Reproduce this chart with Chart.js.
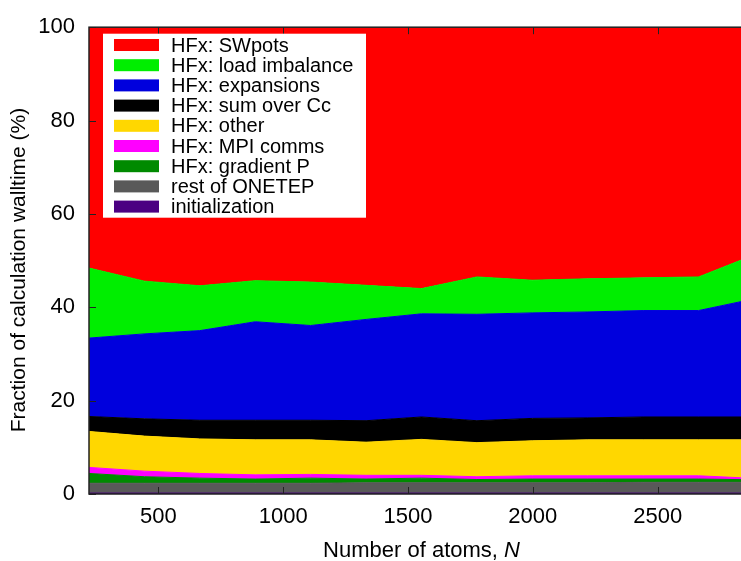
<!DOCTYPE html>
<html>
<head>
<meta charset="utf-8">
<script src="https://cdn.jsdelivr.net/npm/chart.js@4/dist/chart.umd.min.js"></script>
<style>
html,body{margin:0;padding:0;background:#fff;overflow:hidden;width:741px;height:561px;}
canvas{display:block;}
</style>
</head>
<body>
<canvas id="c" width="760" height="561" style="width:760px;height:561px"></canvas>
<script>
// ---- data ----
const atoms = [222, 444, 666, 888, 1110, 1332, 1554, 1776, 1998, 2220, 2442, 2664, 2886];
const initialization = [0.2, 0.2, 0.2, 0.2, 0.2, 0.2, 0.2, 0.2, 0.2, 0.2, 0.2, 0.2, 0.2];
const restOfOnetep   = [2.1, 2.1, 2.1, 2.1, 2.1, 2.2, 2.2, 2.2, 2.2, 2.2, 2.3, 2.3, 2.3];
const gradientP      = [2.1, 1.4, 1.1, 0.9, 1.1, 0.8, 1.0, 0.7, 0.8, 0.8, 0.7, 0.7, 0.55];
const mpiComms       = [1.3, 1.2, 1.0, 0.9, 0.8, 0.8, 0.6, 0.6, 0.7, 0.7, 0.7, 0.7, 0.3];
const hfxOther       = [7.7, 7.5, 7.4, 7.5, 7.4, 7.1, 7.7, 7.3, 7.5, 7.7, 7.7, 7.7, 8.25];
const sumOverCc      = [3.2, 3.7, 4.0, 4.2, 4.2, 4.6, 4.8, 4.7, 4.8, 4.7, 4.9, 4.9, 4.9];
const expansions     = [16.8, 18.2, 19.2, 21.1, 20.3, 21.7, 22.1, 22.8, 22.6, 22.7, 22.8, 22.8, 25.3];
const loadImbalance  = [15.0, 11.3, 9.6, 8.8, 9.3, 7.3, 5.4, 8.0, 7.0, 7.1, 7.0, 7.2, 9.4];
const swPots         = [51.6, 54.4, 55.4, 54.3, 54.6, 55.3, 56.0, 53.5, 54.2, 53.9, 53.7, 53.5, 48.8];

const xTicks = [500, 1000, 1500, 2000, 2500];
const yTicks = [0, 20, 40, 60, 80, 100];

// stacked bottom -> top
const seriesLabels = ['initialization', 'rest of ONETEP', 'HFx: gradient P', 'HFx: MPI comms',
  'HFx: other', 'HFx: sum over Cc', 'HFx: expansions', 'HFx: load imbalance', 'HFx: SWpots'];
const seriesValues = [initialization, restOfOnetep, gradientP, mpiComms, hfxOther,
  sumOverCc, expansions, loadImbalance, swPots];
const seriesColors = ['#4b0082', '#595959', '#008a00', '#ff00ff', '#ffd700',
  '#000000', '#0000dd', '#00ee00', '#ff0000'];

const FONT = "'Liberation Sans', Arial, Helvetica, sans-serif";

const datasets = seriesValues.map((vals, i) => ({
  label: seriesLabels[i],
  data: atoms.map((n, j) => ({x: n, y: vals[j]})),
  backgroundColor: seriesColors[i],
  borderColor: seriesColors[i],
  borderWidth: 1,
  pointRadius: 0,
  tension: 0,
  fill: i === 0 ? 'origin' : '-1'
}));

const framePlugin = {
  id: 'frame',
  afterDatasetsDraw(chart) {
    const {ctx, chartArea: a, scales: {x, y}} = chart;
    ctx.save();
    ctx.strokeStyle = '#222';
    ctx.lineWidth = 1;
    ctx.beginPath();
    xTicks.forEach(v => {
      const p = Math.round(x.getPixelForValue(v)) + 0.5;
      ctx.moveTo(p, a.bottom); ctx.lineTo(p, a.bottom - 7);
      ctx.moveTo(p, a.top); ctx.lineTo(p, a.top + 7);
    });
    yTicks.forEach(v => {
      const p = Math.round(y.getPixelForValue(v)) + 0.5;
      ctx.moveTo(a.left, p); ctx.lineTo(a.left + 7, p);
      ctx.moveTo(a.right, p); ctx.lineTo(a.right - 7, p);
    });
    ctx.stroke();
    ctx.lineWidth = 1.5;
    ctx.strokeStyle = '#222';
    ctx.strokeRect(a.left, a.top, a.right - a.left, a.bottom - a.top);

    // legend box
    const lx = a.left + 14, ly = a.top + 6.5, lw = 263, lh = 184;
    ctx.fillStyle = '#fff';
    ctx.fillRect(lx, ly, lw, lh);
    ctx.font = '20px ' + FONT;
    ctx.textBaseline = 'middle';
    ctx.textAlign = 'left';
    const n = seriesLabels.length;
    for (let k = 0; k < n; k++) {
      const i = n - 1 - k;
      const cy = ly + 11.3 + k * 20.2;
      ctx.fillStyle = seriesColors[i];
      ctx.fillRect(lx + 11, cy - 6, 45, 12);
      ctx.fillStyle = '#000';
      ctx.fillText(seriesLabels[i], lx + 68, cy + 1);
    }

    // axis titles
    ctx.fillStyle = '#000';
    ctx.font = '22px ' + FONT;
    const t1 = 'Number of atoms, ';
    const t2 = 'N';
    const w1 = ctx.measureText(t1).width;
    ctx.font = 'italic 22px ' + FONT;
    const w2 = ctx.measureText(t2).width;
    const cx = (a.left + a.right) / 2;
    const sx = cx - (w1 + w2) / 2;
    ctx.textAlign = 'left';
    ctx.textBaseline = 'middle';
    ctx.font = '22px ' + FONT;
    ctx.fillText(t1, sx, 551);
    ctx.font = 'italic 22px ' + FONT;
    ctx.fillText(t2, sx + w1, 551);

    ctx.font = '21px ' + FONT;
    ctx.translate(19, 270);
    ctx.rotate(-Math.PI / 2);
    ctx.textAlign = 'center';
    ctx.fillText('Fraction of calculation walltime (%)', 0, 0);
    ctx.restore();
  }
};

new Chart(document.getElementById('c'), {
  type: 'line',
  data: {datasets},
  options: {
    responsive: false,
    animation: false,
    layout: {padding: {top: 21, right: 6, left: 0, bottom: 0}},
    plugins: {legend: {display: false}, tooltip: {enabled: false}},
    elements: {line: {borderJoinStyle: 'miter'}},
    scales: {
      x: {
        type: 'linear',
        min: atoms[0],
        max: atoms[atoms.length - 1],
        grid: {display: false, drawTicks: false},
        border: {display: false},
        afterBuildTicks: s => { s.ticks = xTicks.map(v => ({value: v})); },
        afterFit: s => { s.height = 67; },
        ticks: {
          color: '#000',
          font: {family: FONT, size: 22},
          padding: 10,
          maxRotation: 0,
          autoSkip: false,
          callback: v => String(v)
        }
      },
      y: {
        stacked: true,
        min: 0,
        max: 100,
        grid: {display: false, drawTicks: false},
        border: {display: false},
        afterBuildTicks: s => { s.ticks = yTicks.map(v => ({value: v})); },
        afterFit: s => { s.width = 89; },
        ticks: {
          color: '#000',
          font: {family: FONT, size: 22},
          padding: 14,
          callback: v => String(v)
        }
      }
    }
  },
  plugins: [framePlugin]
});
</script>
</body>
</html>
